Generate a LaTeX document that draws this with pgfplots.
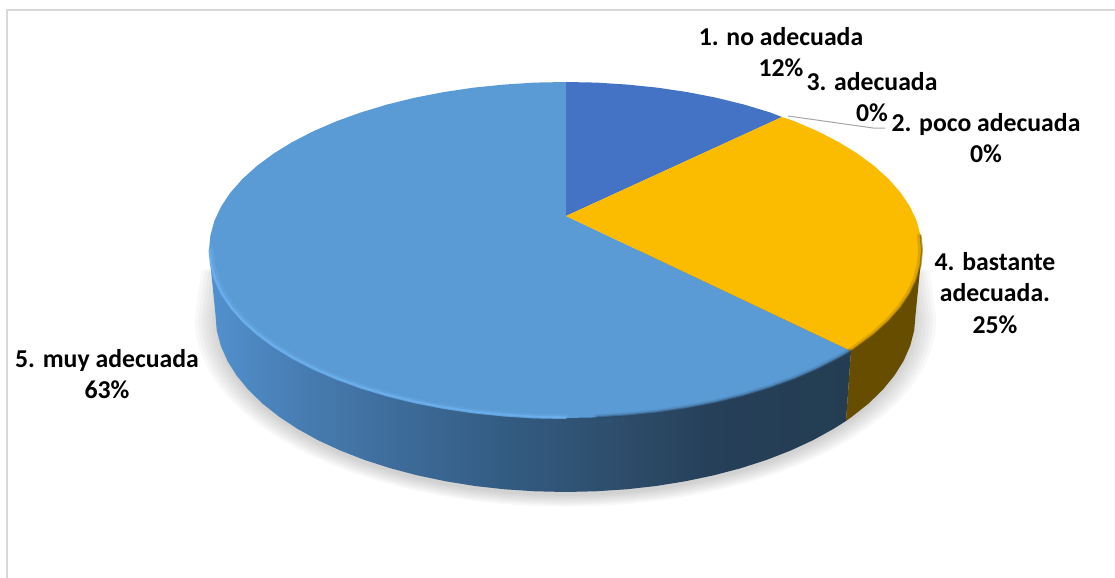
\documentclass[border=0pt]{standalone}
\usepackage{pgfplots}
\pgfplotsset{compat=1.18}
\usepackage{pgfplotstable}
\usepackage{fontspec}
\setmainfont{Carlito}
\definecolor{sliceA}{HTML}{4472C4}
\definecolor{sliceB}{HTML}{FBBC00}
\definecolor{sliceC}{HTML}{5B9BD5}
\definecolor{sideB}{HTML}{664D00}
\definecolor{frameC}{HTML}{D9D9D9}
\definecolor{leader}{HTML}{A6A6A6}
\definecolor{rimL}{HTML}{70B4F4}
\definecolor{rimD}{HTML}{2A4A68}
\pgfdeclarehorizontalshading{bluesideshade}{100bp}{rgb(0bp)=(0.32,0.57,0.81); rgb(25bp)=(0.32,0.57,0.81); rgb(32bp)=(0.28,0.49,0.70); rgb(40bp)=(0.24,0.42,0.60); rgb(48bp)=(0.20,0.36,0.51); rgb(56bp)=(0.18,0.31,0.43); rgb(64bp)=(0.15,0.25,0.35); rgb(75bp)=(0.14,0.24,0.32); rgb(100bp)=(0.14,0.24,0.32)}
% lower rim of the top face
\pgfplotstableread{
x y
209 250
210.4 264.6
214.4 279.2
221.1 293.5
230.5 307.5
242.4 321
256.8 334
273.5 346.4
292.4 358
313.4 368.8
336.3 378.7
361 387.6
387.2 395.5
414.8 402.3
443.6 407.9
473.2 412.3
503.6 415.4
534.4 417.4
565.5 418
}\rimleft
\pgfplotstableread{
x y
596.6 417.4
627.4 415.4
657.8 412.3
687.4 407.9
716.2 402.3
743.8 395.5
770 387.6
794.7 378.7
817.6 368.8
838.6 358
851 351
}\rimright
\pgfplotstableread{
x y
851 351
857.5 346.4
874.2 334
888.6 321
900.5 307.5
909.9 293.5
916.6 279.2
920.6 264.6
922 250
920.6 235.4
}\rimyellow
% shadow outline
\pgfplotstableread{
x y
300 240
222 270
215.5 315
216.8 330.4
220.8 345.7
227.4 360.8
236.6 375.5
248.3 389.8
262.4 403.5
278.8 416.5
297.4 428.8
318 440.2
340.5 450.6
364.7 460
390.5 468.3
417.6 475.4
445.8 481.3
474.9 486
504.7 489.3
535 491.3
565.5 492
596 491.3
626.3 489.3
656.1 486
685.2 481.3
713.4 475.4
740.5 468.3
766.3 460
790.5 450.6
813 440.2
833.6 428.8
852.2 416.5
868.6 403.5
882.7 389.8
894.4 375.5
903.6 360.8
910.2 345.7
914.2 330.4
915.5 315
909 270
830 240
}\shadowtable
\newcommand\shadowlayer[1]{\addplot[draw=none,fill=black,fill opacity=0.028,forget plot] table[x expr=565.5+(\thisrow{x}-565.5)*#1,y expr=319+(\thisrow{y}-315)*#1]{\shadowtable} --cycle;}
\newcommand\rimline[5]{\addplot[draw=#2,line width=#3,opacity=#4,line cap=round,line join=round,forget plot] table[x expr=565.5+(\thisrow{x}-565.5)*#5,y expr=250+(\thisrow{y}-250)*#5]{#1};}
\begin{document}
\begin{tikzpicture}
\begin{axis}[at={(0,0)},anchor=south west,scale only axis,width=836.25pt,height=433.5pt,
 xmin=0,xmax=1115,ymin=0,ymax=578,y dir=reverse,hide axis,clip=false]
% frame
\addplot[draw=frameC,line width=1.5pt,forget plot] coordinates {(7,578)(7,10)(1115,10)};
% shadow
\shadowlayer{1.06}\shadowlayer{1.05}\shadowlayer{1.04}\shadowlayer{1.03}\shadowlayer{1.02}\shadowlayer{1.01}\shadowlayer{1.00}
% blue side wall
\addplot[draw=none,shading=bluesideshade,forget plot] coordinates {
(209,250)(215.5,315)(216.8,330.4)(220.8,345.7)(227.4,360.8)(236.6,375.5)(248.3,389.8)(262.4,403.5)(278.8,416.5)(297.4,428.8)(318,440.2)(340.5,450.6)(364.7,460)(390.5,468.3)(417.6,475.4)(445.8,481.3)(474.9,486)(504.7,489.3)(535,491.3)(565.5,492)(596,491.3)(626.3,489.3)(656.1,486)(685.2,481.3)(713.4,475.4)(740.5,468.3)(766.3,460)(790.5,450.6)(813,440.2)(833.6,428.8)(846,421)(851,351)(851,250)} --cycle;
% yellow side wall
\addplot[draw=none,fill=sideB,forget plot] coordinates {
(851,250)(851,351)(846,421)(852.2,416.5)(868.6,403.5)(882.7,389.8)(894.4,375.5)(903.6,360.8)(910.2,345.7)(914.2,330.4)(915.5,315)(922,250)} --cycle;
% 5. muy adecuada, 63%
\addplot[draw=none,fill=sliceC,forget plot] coordinates {
(566,216)(851,351)(838.6,358)(817.6,368.8)(794.7,378.7)(770,387.6)(743.8,395.5)(716.2,402.3)(687.4,407.9)(657.8,412.3)(627.4,415.4)(596.6,417.4)(565.5,418)(534.4,417.4)(503.6,415.4)(473.2,412.3)(443.6,407.9)(414.8,402.3)(387.2,395.5)(361,387.6)(336.3,378.7)(313.4,368.8)(292.4,358)(273.5,346.4)(256.8,334)(242.4,321)(230.5,307.5)(221.1,293.5)(214.4,279.2)(210.4,264.6)(209,250)(210.4,235.4)(214.4,220.8)(221.1,206.5)(230.5,192.5)(242.4,179)(256.8,166)(273.5,153.6)(292.4,142)(313.4,131.2)(336.3,121.3)(361,112.4)(387.2,104.5)(414.8,97.7)(443.6,92.1)(473.2,87.7)(503.6,84.6)(534.4,82.6)(566,82)} --cycle;
% 1. no adecuada, 12%
\addplot[draw=none,fill=sliceA,forget plot] coordinates {
(566,216)(566,82)(596.6,82.6)(627.4,84.6)(657.8,87.7)(687.4,92.1)(716.2,97.7)(743.8,104.5)(770,112.4)(782,117)} --cycle;
% 4. bastante adecuada, 25%
\addplot[draw=none,fill=sliceB,forget plot] coordinates {
(566,216)(782,117)(794.7,121.3)(817.6,131.2)(838.6,142)(857.5,153.6)(874.2,166)(888.6,179)(900.5,192.5)(909.9,206.5)(916.6,220.8)(920.6,235.4)(922,250)(920.6,264.6)(916.6,279.2)(909.9,293.5)(900.5,307.5)(888.6,321)(874.2,334)(857.5,346.4)(851,351)} --cycle;
% bevel
\rimline{\rimleft}{rimL}{3.6pt}{0.25}{0.993}
\rimline{\rimleft}{rimL}{2pt}{0.7}{0.998}
\rimline{\rimright}{rimD}{3pt}{0.2}{0.995}
\rimline{\rimright}{rimD}{1.6pt}{0.5}{1.0}
\rimline{\rimyellow}{sideB}{3pt}{0.2}{0.995}
\rimline{\rimyellow}{sideB}{1.5pt}{0.5}{1.0}
% leader
\addplot[draw=leader,line width=0.75pt,forget plot] coordinates {(788,116)(873,128)(885,128)};
% labels
\begin{scope}[every node/.style={align=center,font=\fontsize{19.3}{23.7}\selectfont\bfseries,inner sep=0pt,text=black}]
\node at (axis cs:781,52) {1. no adecuada\\12\%};
\node at (axis cs:872,97) {3. adecuada\\0\%};
\node at (axis cs:986,138) {2. poco adecuada\\0\%};
\node at (axis cs:995,293) {4. bastante\\adecuada.\\25\%};
\node at (axis cs:107,374) {5. muy adecuada\\63\%};
\end{scope}
\end{axis}
\pgfresetboundingbox
\path[use as bounding box] (0,0) rectangle (836.25pt,433.5pt);
\end{tikzpicture}
\end{document}
